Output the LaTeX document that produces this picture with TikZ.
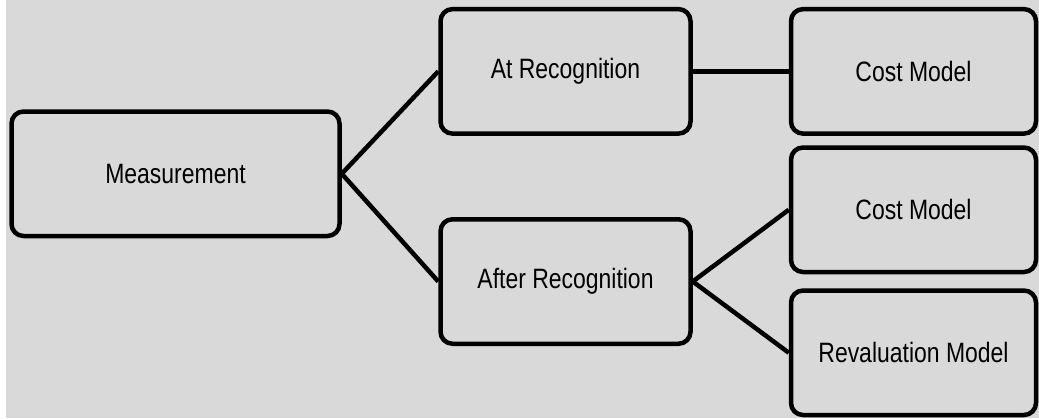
\documentclass[tikz,border=0pt]{standalone}
\usepackage{fontspec}
\setmainfont{Liberation Sans}[FakeStretch=0.82]
\begin{document}
\begin{tikzpicture}[x=1pt,y=-1pt,
  box/.style={draw=black, line width=4.5pt, rounded corners=12pt, fill=bggray,
    minimum width=#1, minimum height=124.5pt, inner sep=0pt,
    font=\fontsize{28}{34}\selectfont, text=black},
  box/.default=250pt,
  link/.style={draw=black, line width=4.5pt}]
\definecolor{bggray}{HTML}{D9D9D9}
\useasboundingbox (0,0) rectangle (1039,418);
\fill[white] (0,0) rectangle (1039,418);
\fill[bggray] (6,0) rectangle (1039,418);
\begin{scope}
\clip (0,0) rectangle (1039,418);
\node[box=328pt] (meas) at (175.5,173.75) {Measurement};
\node[box] (atrec) at (565.5,71.35) {At Recognition};
\node[box] (afrec) at (565.5,281.5) {After Recognition};
\node[box=245pt] (cost1) at (913.5,71.35) {Cost Model};
\node[box=245pt] (cost2) at (913.5,209.75) {Cost Model};
\node[box=245pt] (reval) at (913.5,352.75) {Revaluation Model};
\draw[link] (meas.east) -- (atrec.west);
\draw[link] (meas.east) -- (afrec.west);
\draw[link] (atrec.east) -- (cost1.west);
\draw[link] (afrec.east) -- (cost2.west);
\draw[link] (afrec.east) -- (reval.west);
\end{scope}
\end{tikzpicture}
\end{document}
